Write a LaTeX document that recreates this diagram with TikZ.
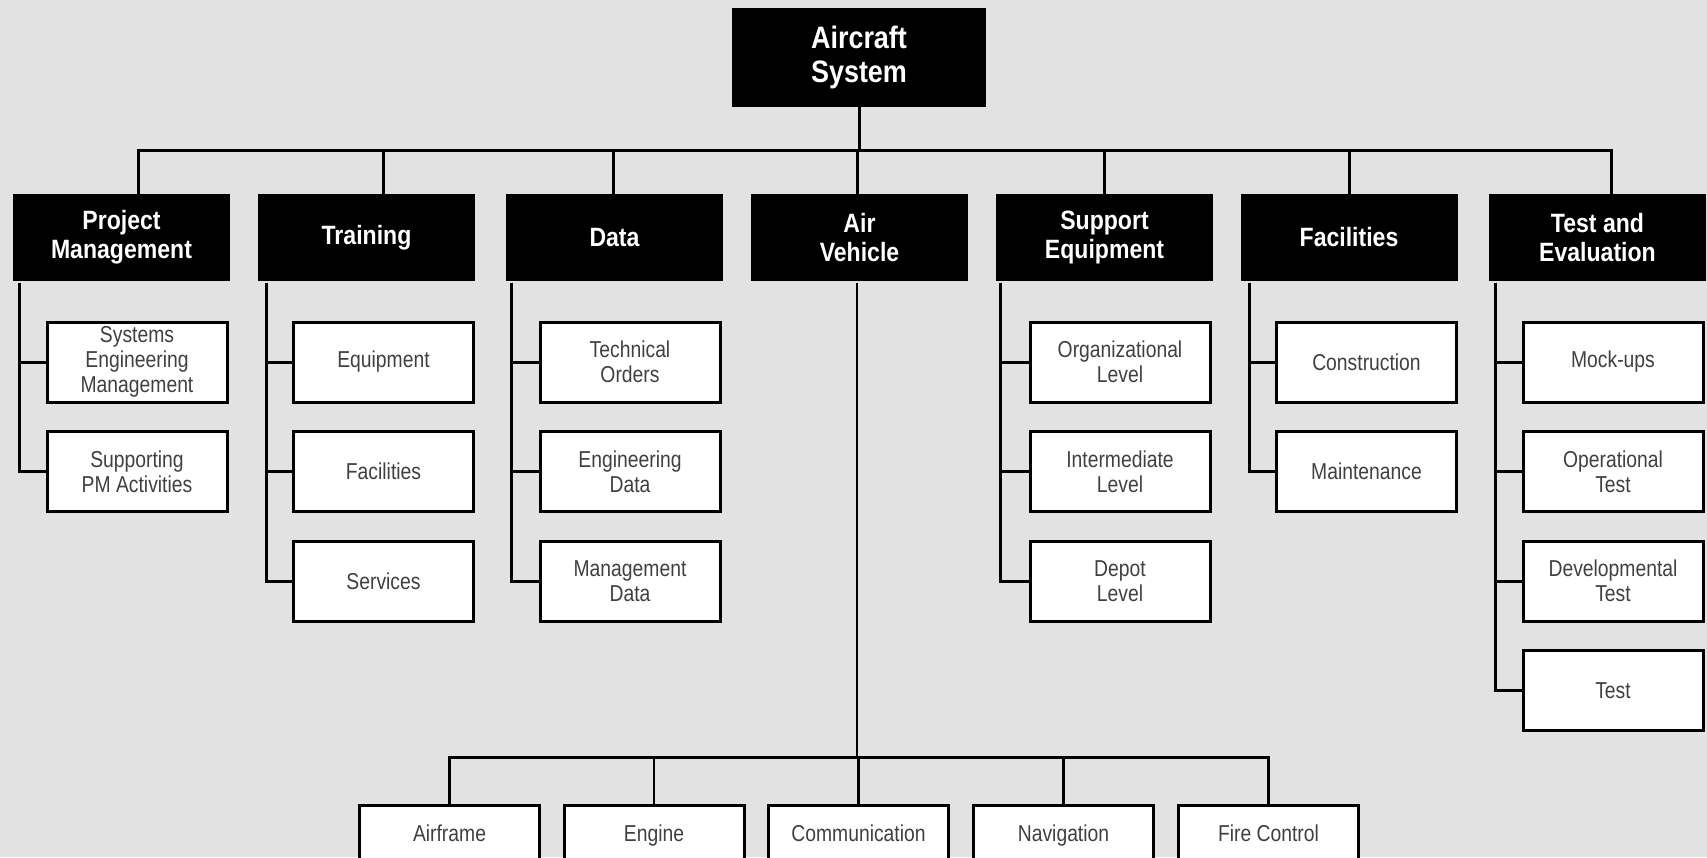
\documentclass[tikz,border=0pt]{standalone}
\usepackage{fontspec}
\setmainfont{Liberation Sans}[FakeStretch=0.87]
\newfontfamily\leaffont{Liberation Sans}[FakeStretch=0.84]
\begin{document}
\begin{tikzpicture}[x=1pt,y=-1pt,
  line width=3pt,
  hdr/.style={fill=black,draw=none,text=white,font=\bfseries\fontsize{26.5}{29}\selectfont,
    align=center,inner sep=0pt,minimum width=217pt,minimum height=87pt},
  topbox/.style={hdr,font=\bfseries\fontsize{31}{34}\selectfont,minimum width=254pt,minimum height=99pt},
  leaf/.style={fill=white,draw=black,line width=3pt,text=black!75,
    font=\leaffont\fontsize{23}{25}\selectfont,align=center,inner sep=0pt,
    minimum width=180pt,minimum height=80pt},
  bleaf/.style={leaf,minimum height=60pt,text height=17pt,text depth=5pt},
  conn/.style={line width=3pt,line cap=rect},
  thinconn/.style={line width=2.6pt}
]
\useasboundingbox (0,0) rectangle (1707,857);
\fill[gray!23] (0,0) rectangle (1707,857);

% root
\node[topbox] (root) at (859,57.5) {Aircraft\\System};

% level 1
\node[hdr] (pm)  at (121.5,237.5)  {Project\\Management};
\node[hdr] (tr)  at (366.5,237.5)  {Training};
\node[hdr] (da)  at (614.5,237.5)  {Data};
\node[hdr] (av)  at (859.5,237.5)  {Air\\Vehicle};
\node[hdr] (se)  at (1104.5,237.5) {Support\\Equipment};
\node[hdr] (fa)  at (1349,237.5)   {Facilities};
\node[hdr] (te)  at (1597.5,237.5) {Test and\\Evaluation};

% bus
\coordinate (busL) at (138,150);
\coordinate (busR) at (1611,150);
\draw[conn] (busL) -- (busR);
\draw[conn] (root.south) -- (root.south |- busL);
\draw[conn] ([xshift=16.5]pm.north) -- ([xshift=16.5]pm.north |- busL);
\draw[conn] ([xshift=16.5]tr.north) -- ([xshift=16.5]tr.north |- busL);
\draw[conn] ([xshift=-1.5]da.north) -- ([xshift=-1.5]da.north |- busL);
\draw[conn] ([xshift=-2.5]av.north) -- ([xshift=-2.5]av.north |- busL);
\draw[conn] (se.north) -- (se.north |- busL);
\draw[conn] (fa.north) -- (fa.north |- busL);
\draw[conn] ([xshift=13.5]te.north) -- ([xshift=13.5]te.north |- busL);

% Project Management children
\node[leaf] (pm1) at (137,362) {Systems\\Engineering\\Management};
\node[leaf] (pm2) at (137,471.5) {Supporting\\PM Activities};
% Training children
\node[leaf] (tr1) at (383.5,362) {Equipment};
\node[leaf] (tr2) at (383.5,471.5) {Facilities};
\node[leaf] (tr3) at (383.5,581) {Services};
% Data children
\node[leaf] (da1) at (630,362) {Technical\\Orders};
\node[leaf] (da2) at (630,471.5) {Engineering\\Data};
\node[leaf] (da3) at (630,581) {Management\\Data};
% Support Equipment children
\node[leaf] (se1) at (1120,362) {Organizational\\Level};
\node[leaf] (se2) at (1120,471.5) {Intermediate\\Level};
\node[leaf] (se3) at (1120,581) {Depot\\Level};
% Facilities children
\node[leaf] (fa1) at (1366.5,362) {Construction};
\node[leaf] (fa2) at (1366.5,471.5) {Maintenance};
% Test and Evaluation children
\node[leaf] (te1) at (1613,362) {Mock-ups};
\node[leaf] (te2) at (1613,471.5) {Operational\\Test};
\node[leaf] (te3) at (1613,581) {Developmental\\Test};
\node[leaf] (te4) at (1613,690.5) {Test};

% side connectors
\foreach \p/\s/\c in {pm/7.7/pm1,pm/7.7/pm2,
                      tr/10/tr1,tr/10/tr2,tr/10/tr3,
                      da/7/da1,da/7/da2,da/7/da3,
                      se/6/se1,se/6/se2,se/6/se3,
                      fa/10/fa1,fa/10/fa2,
                      te/8/te1,te/8/te2,te/8/te3,te/8/te4}{
  \draw[conn,line cap=butt] ([xshift=\s]\p.south west) |- (\c.west);
}

% Air Vehicle children
\coordinate (bus2L) at (449.5,757);
\coordinate (bus2R) at (1268.5,757);
\node[bleaf] (av1) at (449.5,835) {Airframe};
\node[bleaf] (av2) at (654,835) {Engine};
\node[bleaf] (av3) at (858.5,835) {Communication};
\node[bleaf] (av4) at (1063.5,835) {Navigation};
\node[bleaf] (av5) at (1268.5,835) {Fire Control};
\draw[thinconn] ([xshift=-2.5]av.south) -- ([xshift=-2.5]av.south |- bus2L);
\draw[conn] (bus2L) -- (bus2R);
\foreach \c in {av1,av2,av3,av4,av5}{
  \draw[thinconn] (\c.north) -- (\c.north |- bus2L);
}
\end{tikzpicture}
\end{document}
